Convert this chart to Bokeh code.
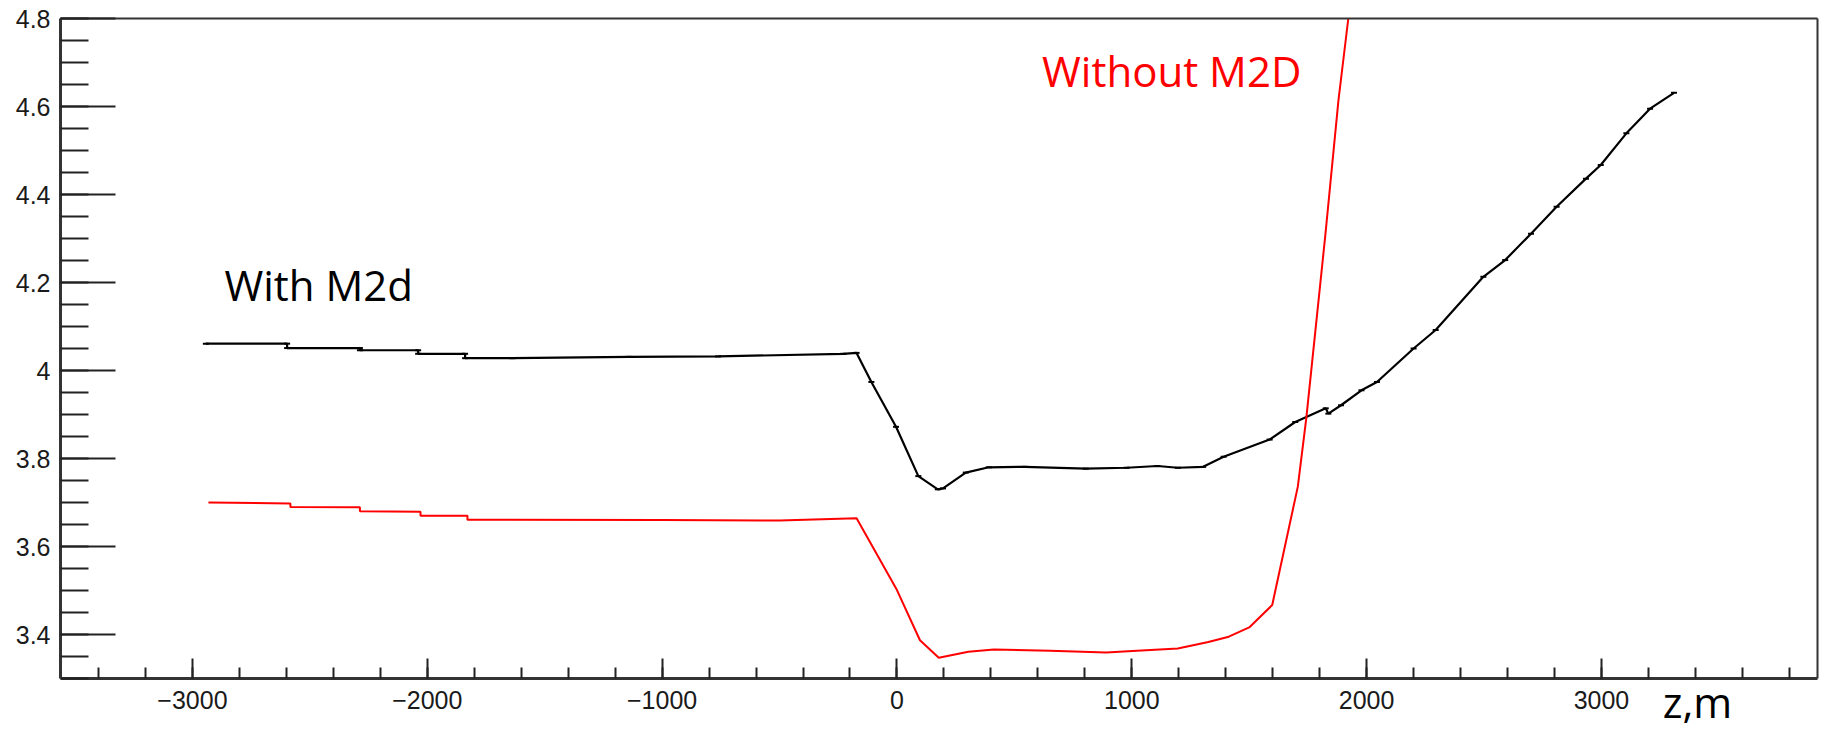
from bokeh.plotting import figure
from bokeh.models import (Range1d, SingleIntervalTicker, FixedTicker, CustomJSTickFormatter,
                          Label, LinearAxis)
from bokeh.embed import file_html
from bokeh.resources import INLINE

# ---- data ----
black_z = [-2943, -2597, -2597, -2287, -2287, -2039, -2039, -1839, -1839, -1638,
           -1143, -762, -229, -172, -109, -4, 91, 174, 196, 293, 391, 544, 804,
           978, 1109, 1196, 1304, 1391, 1587, 1696, 1826, 1837, 1891, 1978, 2044,
           2200, 2294, 2497, 2590, 2700, 2809, 2934, 2997, 3106, 3207, 3309]
black_v = [4.061, 4.061, 4.051, 4.051, 4.046, 4.046, 4.038, 4.038, 4.028, 4.028,
           4.031, 4.032, 4.038, 4.040, 3.974, 3.872, 3.760, 3.730, 3.732, 3.768,
           3.780, 3.781, 3.777, 3.779, 3.783, 3.779, 3.781, 3.804, 3.843, 3.883,
           3.914, 3.902, 3.921, 3.955, 3.974, 4.050, 4.092, 4.213, 4.251, 4.311,
           4.372, 4.436, 4.467, 4.539, 4.595, 4.631]

red_z = [-2932, -2583, -2583, -2287, -2287, -2029, -2029, -1829, -1829, -1000,
         -500, -172, 0, 98, 178, 304, 413, 652, 891, 1022, 1196, 1326, 1413,
         1500, 1598, 1707, 1743, 1825, 1880, 1922]
red_v = [3.700, 3.698, 3.690, 3.689, 3.680, 3.679, 3.670, 3.670, 3.661, 3.660,
         3.659, 3.664, 3.501, 3.387, 3.347, 3.361, 3.366, 3.363, 3.359, 3.363,
         3.368, 3.383, 3.395, 3.416, 3.467, 3.736, 3.891, 4.312, 4.614, 4.800]

x_label = "z,m"
label_with = "With M2d"
label_without = "Without M2D"

# axis extents (data units)
X_MIN, X_MAX = -3562, 3920
Y_MIN, Y_MAX = 3.30, 4.80

# ---- layout: the plotting frame covers the whole canvas, the visible
#      "frame" is drawn by axes pinned at the data extents ----
W, H = 1825, 731
FL, FR, FT, FB = 60, 1817, 18, 678          # pixel box of the visible frame
sx = (FR - FL) / (X_MAX - X_MIN)
sy = (FB - FT) / (Y_MAX - Y_MIN)

p = figure(width=W, height=H, output_backend="svg", toolbar_location=None,
           x_range=Range1d(X_MIN - FL / sx, X_MAX + (W - FR) / sx),
           y_range=Range1d(Y_MIN - (H - FB) / sy, Y_MAX + FT / sy),
           x_axis_location=None, y_axis_location=None,
           min_border=0, min_border_left=0, min_border_right=0,
           min_border_top=0, min_border_bottom=0)
p.background_fill_color = "white"
p.border_fill_color = "white"
p.outline_line_color = None
p.xgrid.visible = False
p.ygrid.visible = False

EPS = 1e-6

def style(ax, line_w):
    ax.axis_line_color = "#333333"
    ax.axis_line_width = line_w
    ax.major_tick_line_color = "#222222"
    ax.minor_tick_line_color = "#222222"
    ax.major_tick_line_width = 2
    ax.minor_tick_line_width = 2
    ax.major_tick_out = 0
    ax.minor_tick_out = 0
    ax.major_label_text_font = "Liberation Sans"
    ax.major_label_text_font_size = "25px"
    ax.major_label_text_color = "#1a1a1a"

xaxis = LinearAxis(ticker=SingleIntervalTicker(interval=1000, num_minor_ticks=5),
                   formatter=CustomJSTickFormatter(
                       code="var v = Math.round(tick); return v < 0 ? '\u2212' + Math.abs(v) : v.toString();"),
                   fixed_location=Y_MIN, bounds=(X_MIN, X_MAX))
style(xaxis, 3)
xaxis.major_tick_in = 20
xaxis.minor_tick_in = 11
xaxis.major_label_standoff = 12
p.add_layout(xaxis, "below")

yaxis = LinearAxis(ticker=SingleIntervalTicker(interval=0.2, num_minor_ticks=4),
                   formatter=CustomJSTickFormatter(code="return (Math.round(tick*10)/10).toString();"),
                   fixed_location=X_MIN, bounds=(Y_MIN - EPS, Y_MAX + EPS))
style(yaxis, 3)
yaxis.major_tick_in = 55
yaxis.minor_tick_in = 28
yaxis.major_label_standoff = 10
p.add_layout(yaxis, "left")

# top and right edges of the frame
top_edge = LinearAxis(ticker=FixedTicker(ticks=[], minor_ticks=[]),
                      fixed_location=Y_MAX, bounds=(X_MIN, X_MAX))
style(top_edge, 2)
p.add_layout(top_edge, "above")
right_edge = LinearAxis(ticker=FixedTicker(ticks=[], minor_ticks=[]),
                        fixed_location=X_MAX, bounds=(Y_MIN, Y_MAX))
style(right_edge, 2)
p.add_layout(right_edge, "right")

p.line(black_z, black_v, line_color="black", line_width=2.2)
p.scatter(black_z, black_v, marker="dash", size=6, line_color="black", line_width=2)
p.line(red_z, red_v, line_color="#ff0000", line_width=2)

p.add_layout(Label(x=-2864, y=4.131, text=label_with, text_font="Open Sans",
                   text_font_size="42px", text_color="black"))
p.add_layout(Label(x=618, y=4.616, text=label_without, text_font="Open Sans",
                   text_font_size="42px", text_color="#ff0000"))
p.add_layout(Label(x=3261, y=3.184, text=x_label, text_font="Open Sans",
                   text_font_size="42px", text_color="black"))

open("out.html", "w").write(file_html(p, INLINE))
